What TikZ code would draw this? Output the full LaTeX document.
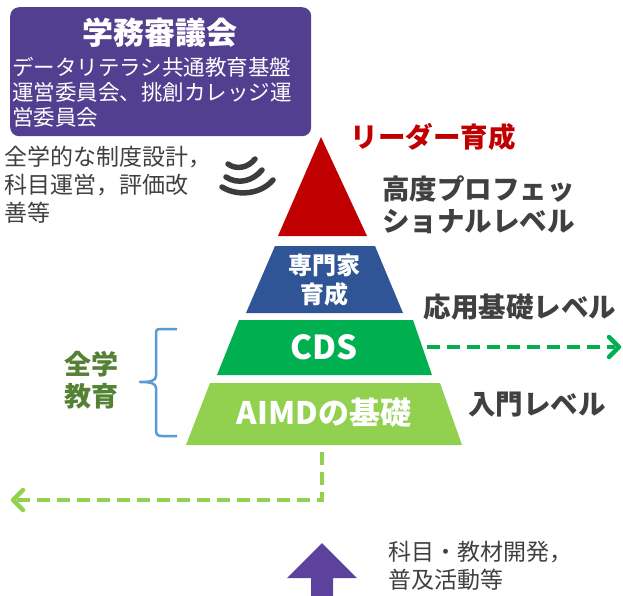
\documentclass[tikz,border=0pt]{standalone}
\usepackage{fontspec}
\setmainfont{Noto Sans CJK JP}
\usetikzlibrary{calc}
\definecolor{boxpurple}{RGB}{82,63,143}
\definecolor{arrpurple}{RGB}{92,66,156}
\definecolor{pred}{RGB}{192,0,0}
\definecolor{pblue}{RGB}{47,85,151}
\definecolor{pgreen}{RGB}{0,176,80}
\definecolor{plgreen}{RGB}{146,208,80}
\definecolor{dtext}{RGB}{64,64,64}
\definecolor{olive}{RGB}{84,130,53}
\definecolor{braceblue}{RGB}{91,155,213}
\definecolor{wavegray}{RGB}{60,60,60}
\tikzset{
  lbl/.style={inner sep=0pt, text=dtext, font=\bfseries\fontsize{27.5}{32}\selectfont, align=left},
  plain/.style={inner sep=0pt, text=dtext, font=\fontsize{23}{28}\selectfont, align=left},
  inlbl/.style={inner sep=0pt, text=white, font=\bfseries\fontsize{24}{29}\selectfont, align=center},
  dashline/.style={line width=4.5pt, dash pattern=on 13pt off 7pt},
  chev/.style={line width=4.5pt, line cap=round, line join=round, solid},
}
\begin{document}
\begin{tikzpicture}[x=1pt,y=-1pt]
\useasboundingbox (0,0) rectangle (623,596);
% purple box
\node[fill=boxpurple, rounded corners=9pt, minimum width=301pt, minimum height=129pt, inner sep=0pt, anchor=north west] (board) at (10,7) {};
\node[inner sep=0pt, text=white, font=\bfseries\fontsize{31}{36}\selectfont] (title) at (160,33) {学務審議会};
\node[inner sep=0pt, text=white, font=\fontsize{21.5}{25}\selectfont, align=left, anchor=north west] (sub) at (12,57) {データリテラシ共通教育基盤\\運営委員会、挑創カレッジ運\\営委員会};
% left text
\node[plain, anchor=north west] (policy) at (4,146) {全学的な制度設計，\\科目運営，評価改\\善等};
% wave icon
\draw[wavegray, line width=5.5pt, line cap=round] (228,164) .. controls (236,170) and (248,168) .. (255,159);
\draw[wavegray, line width=5.5pt, line cap=round] (226,177) .. controls (238,185) and (253,181) .. (262,170);
\draw[wavegray, line width=5.5pt, line cap=round] (222,187) .. controls (238,197) and (261,194) .. (273,180);
% pyramid
\fill[pred] (321,137) -- (367,236) -- (278,236) -- cycle;
\fill[pblue] (275,246) -- (375,246) -- (403,313) -- (246,313) -- cycle;
\fill[pgreen] (239,320) -- (413,320) -- (432,375) -- (217,375) -- cycle;
\fill[plgreen] (210,383) -- (440,383) -- (462,445) -- (186,445) -- cycle;
\node[inlbl] (expert) at (324,280) {専門家\\育成};
\node[inlbl, font=\bfseries\fontsize{33}{36}\selectfont] (cds) at (324,347) {CDS};
\node[inlbl, font=\bfseries\fontsize{31}{34}\selectfont] (aimd) at (324,413) {AIMDの基礎};
% right labels
\node[inner sep=0pt, text=pred, font=\bfseries\fontsize{27.5}{32}\selectfont] (leader) at (433,137) {リーダー育成};
\node[lbl, anchor=west] (adv) at (382,205) {高度プロフェッ\\ショナルレベル};
\node[lbl] (applied) at (520,307) {応用基礎レベル};
\node[lbl] (intro) at (537,405) {入門レベル};
% left group label
\node[inner sep=0pt, text=olive, font=\bfseries\fontsize{27}{32}\selectfont, align=left] (all) at (91,380) {全学\\教育};
\draw[braceblue, line width=2.5pt, line join=round] (177,329) -- (160,329) .. controls (156,329) and (156,331) .. (156,335) -- (156,376) .. controls (156,381) and (150,382) .. (140,382) .. controls (150,382) and (156,383) .. (156,388) -- (156,430) .. controls (156,435) and (158,436) .. (162,436) -- (177,436);
% green dashed arrow
\coordinate (gstart) at (427,347);
\coordinate (gtip) at (619,347);
\draw[pgreen, dashline] (gstart) -- ($(gtip)+(-4,0)$);
\draw[pgreen, chev] ($(gtip)+(-10,-10)$) -- (gtip) -- ($(gtip)+(-10,10)$);
% light green dashed arrow
\coordinate (lstart) at (322,452);
\coordinate (lcorner) at (322,500);
\coordinate (ltip) at (13,500);
\draw[plgreen, dashline, line join=miter] (lstart) -- (lcorner) -- ($(ltip)+(4,0)$);
\draw[plgreen, chev] ($(ltip)+(10,-10)$) -- (ltip) -- ($(ltip)+(10,10)$);
% purple up arrow
\fill[arrpurple] (322,543) -- (357,578) -- (333,578) -- (333,596) -- (311,596) -- (311,578) -- (287,578) -- cycle;
\node[plain, anchor=north west] (dev) at (388,541) {科目・教材開発，\\普及活動等};
\end{tikzpicture}
\end{document}
